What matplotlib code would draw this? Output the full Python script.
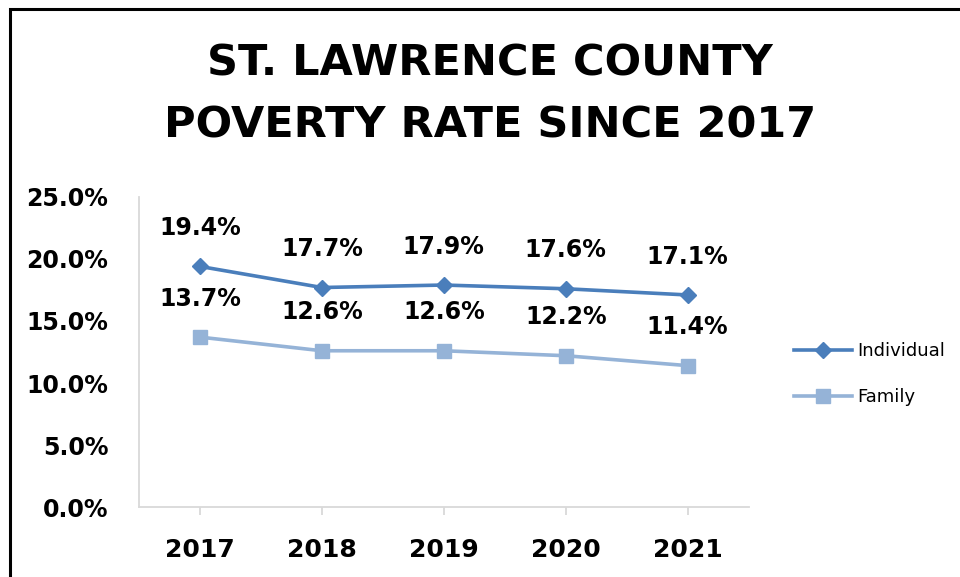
import matplotlib
matplotlib.use("Agg")
import matplotlib.pyplot as plt
from matplotlib.patches import Rectangle
from matplotlib.ticker import PercentFormatter

years = ["2017", "2018", "2019", "2020", "2021"]
individual = [19.4, 17.7, 17.9, 17.6, 17.1]
family = [13.7, 12.6, 12.6, 12.2, 11.4]

c_ind = "#4A7EBB"
c_fam = "#95B3D7"

fig = plt.figure(figsize=(9.6, 5.77), dpi=100)
ax = fig.add_axes([0.1448, 0.1213, 0.635, 0.5373])

x = list(range(len(years)))
ax.plot(x, individual, color=c_ind, lw=2.6, marker="D", ms=8, label="Individual")
ax.plot(x, family, color=c_fam, lw=2.6, marker="s", ms=10, label="Family")

for xi, v in zip(x, individual):
    ax.annotate(f"{v:.1f}%", (xi, v), xytext=(0, 19), textcoords="offset points",
                ha="center", va="bottom", fontsize=17, fontweight="bold")
for xi, v in zip(x, family):
    ax.annotate(f"{v:.1f}%", (xi, v), xytext=(0, 19), textcoords="offset points",
                ha="center", va="bottom", fontsize=17, fontweight="bold")

ax.set_xlim(-0.5, 4.5)
ax.set_ylim(0, 25)
ax.set_yticks([0, 5, 10, 15, 20, 25])
ax.yaxis.set_major_formatter(PercentFormatter(decimals=1))
ax.set_xticks(x)
ax.set_xticklabels(years)

for s in ["top", "right"]:
    ax.spines[s].set_visible(False)
for s in ["left", "bottom"]:
    ax.spines[s].set_color("#D9D9D9")
    ax.spines[s].set_linewidth(1.3)
ax.tick_params(axis="y", length=0, pad=22, labelsize=17)
ax.tick_params(axis="x", length=6, color="#D9D9D9", width=1.3, pad=16, labelsize=18)
for lab in ax.get_xticklabels() + ax.get_yticklabels():
    lab.set_fontweight("bold")

fig.legend(loc="center left", bbox_to_anchor=(0.81, 0.352), frameon=False,
           fontsize=13, handlelength=3.2, labelspacing=1.55, handletextpad=0.3)

fig.text(0.51, 0.836, "ST. LAWRENCE COUNTY\nPOVERTY RATE SINCE 2017", ha="center",
         va="center", fontsize=31, fontweight="bold", linespacing=1.62)

fig.patches.append(Rectangle((10 / 960, -0.1), 1.2, (577 - 9) / 577 + 0.1,
                             transform=fig.transFigure, fill=False,
                             edgecolor="black", lw=2.2))

fig.savefig("out.png", dpi=100)
